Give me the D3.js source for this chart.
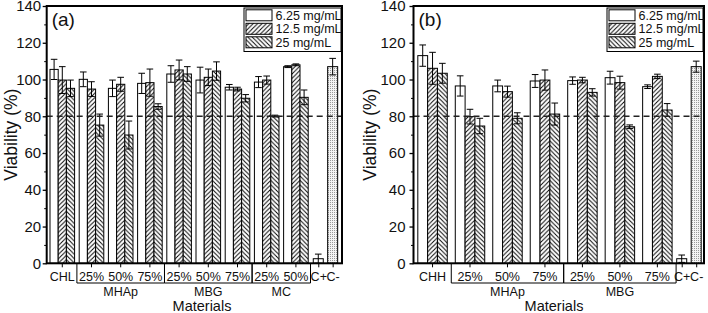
<!DOCTYPE html>
<html>
<head>
<meta charset="utf-8">
<script src="https://cdn.jsdelivr.net/npm/d3@7"></script>
<style>
  body { margin: 0; background: #fff; }
  svg { display: block; font-family: "Liberation Sans", Arial, sans-serif; }
</style>
</head>
<body>
<svg id="chart" width="708" height="313"></svg>
<script>
// series (legend) and the two control bars
var seriesNames = ["6.25 mg/mL", "12.5 mg/mL", "25 mg/mL"];
var controlCats = ["C+", "C-"];

// panel (a)
var catsA = ["CHL", "MHAp 25%", "MHAp 50%", "MHAp 75%", "MBG 25%", "MBG 50%", "MBG 75%", "MC 25%", "MC 50%"];
var lowA = [105.5, 100.1, 95.2, 97.9, 103, 99.7, 95.8, 98.6, 107];
var lowErrA = [5.5, 4, 4.5, 5.5, 4.5, 7, 1.5, 3, 0.5];
var midA = [99.7, 94.8, 97.4, 98.3, 105.2, 101.2, 94.8, 99.7, 108];
var midErrA = [7.3, 4, 3.8, 7.4, 5.4, 4.5, 1, 2.2, 0.5];
var highA = [95.2, 75.2, 69.8, 85.3, 103, 104.6, 89.8, 80.1, 90.3];
var highErrA = [4.5, 6, 7.6, 1.5, 4, 5, 2, 0.5, 4];
var ctrlA = [2.5, 107];
var ctrlErrA = [2.5, 4.5];

// panel (b)
var catsB = ["CHH", "MHAp 25%", "MHAp 50%", "MHAp 75%", "MBG 25%", "MBG 50%", "MBG 75%"];
var lowB = [113, 96.5, 96.5, 99.2, 99.4, 101, 96.1];
var lowErrB = [5.8, 5.5, 3.2, 3.5, 2, 3.5, 1];
var midB = [106.1, 79.8, 93.4, 99.7, 99.7, 98.3, 101.7];
var midErrB = [8.7, 4, 3, 5.5, 1.5, 3.5, 1.2];
var highB = [103.4, 74.7, 78.9, 81.2, 93, 74.3, 83.4];
var highErrB = [5.4, 4.2, 3, 6, 2, 1, 3.5];
var ctrlB = [2.5, 107];
var ctrlErrB = [2, 3];

var yDomain = [0, 140];
var thresholdValue = 80;

var svg = d3.select("#chart");
var defs = svg.append("defs");
var plotTop = 6, plotBottom = 263.3;

// light stipple for C-
var dots = defs.append("pattern").attr("id", "dots")
    .attr("patternUnits", "userSpaceOnUse").attr("width", 2).attr("height", 2);
dots.append("rect").attr("width", 2).attr("height", 2).attr("fill", "#f4f4f4");
dots.append("rect").attr("width", 1).attr("height", 1).attr("fill", "#9a9a9a");

function hatch(id, dir, ox) {
    var s = 4.4;
    var pat = defs.append("pattern").attr("id", id)
        .attr("patternUnits", "userSpaceOnUse")
        .attr("width", s).attr("height", s)
        .attr("x", ox).attr("y", 0);
    pat.append("rect").attr("width", s).attr("height", s).attr("fill", "#fff");
    var d = dir > 0
        ? "M0," + s + "L" + s + ",0 M-1,1L1,-1 M" + (s - 1) + "," + (s + 1) + "L" + (s + 1) + "," + (s - 1)
        : "M0,0L" + s + "," + s + " M-1," + (s - 1) + "L1," + (s + 1) + " M" + (s - 1) + ",-1L" + (s + 1) + ",1";
    pat.append("path").attr("d", d).attr("stroke", "#000").attr("stroke-width", 0.95);
    return "url(#" + id + ")";
}

function draw_panel(p) {
    var g = svg.append("g");

    var y = d3.scaleLinear().domain(yDomain).range([plotBottom, plotTop]);

    var x0 = d3.scaleBand().domain(p.cats)
        .range([p.left, p.split])
        .paddingInner(p.padIn).paddingOuter(p.padOut);
    var x1 = d3.scaleBand().domain([0, 1, 2]).range([0, x0.bandwidth()]);
    var xc = d3.scalePoint().domain(controlCats)
        .range([p.split, p.right]).padding(p.ctrlPad).align(p.ctrlAlign);

    var rows = p.cats.map(function (c, i) {
        return { cat: c, i: i, vals: [p.low[i], p.mid[i], p.high[i]], errs: [p.lowErr[i], p.midErr[i], p.highErr[i]] };
    });

    // bars
    rows.forEach(function (r) {
        var bx = x0(r.cat);
        var join = bx + x1(2); // boundary between hatched bars -> chevrons
        var fills = ["#fff",
            hatch(p.id + "m" + r.i, 1, join),
            hatch(p.id + "h" + r.i, -1, join)];
        r.vals.forEach(function (v, k) {
            g.append("rect")
                .attr("x", bx + x1(k))
                .attr("width", x1.bandwidth())
                .attr("y", y(v))
                .attr("height", y(0) - y(v))
                .attr("fill", fills[k])
                .attr("stroke", "#000").attr("stroke-width", 1);
        });
    });

    // control bars
    var cw = 10;
    controlCats.forEach(function (c, k) {
        g.append("rect")
            .attr("x", xc(c) - cw / 2).attr("width", cw)
            .attr("y", y(p.ctrl[k])).attr("height", y(0) - y(p.ctrl[k]))
            .attr("fill", k === 0 ? "#fff" : "url(#dots)")
            .attr("stroke", "#000").attr("stroke-width", 1);
    });

    // error bars
    function errBar(cx, v, e) {
        var cap = 3.3;
        g.append("path")
            .attr("d", "M" + cx + "," + y(v - e) + "V" + y(v + e) +
                "M" + (cx - cap) + "," + y(v + e) + "H" + (cx + cap) +
                "M" + (cx - cap) + "," + y(v - e) + "H" + (cx + cap))
            .attr("fill", "none").attr("stroke", "#000").attr("stroke-width", 1);
    }
    rows.forEach(function (r) {
        r.vals.forEach(function (v, k) {
            errBar(x0(r.cat) + x1(k) + x1.bandwidth() / 2, v, r.errs[k]);
        });
    });
    controlCats.forEach(function (c, k) { errBar(xc(c), p.ctrl[k], p.ctrlErr[k]); });

    // 80 % line
    g.append("line")
        .attr("x1", p.left).attr("x2", p.right)
        .attr("y1", y(thresholdValue)).attr("y2", y(thresholdValue))
        .attr("stroke", "#222").attr("stroke-width", 1.3)
        .attr("stroke-dasharray", "6,4");

    // y axis: minor then major ticks
    g.append("g").attr("transform", "translate(" + p.left + ",0)")
        .call(d3.axisLeft(y).tickValues(d3.range(10, 140, 20)).tickSize(2.5).tickFormat(""))
        .call(function (a) { a.select(".domain").remove(); });
    var ya = g.append("g").attr("transform", "translate(" + p.left + ",0)")
        .call(d3.axisLeft(y).tickValues(d3.range(0, 141, 20)).tickSize(4).tickPadding(p.yPad));
    ya.select(".domain").remove();
    ya.selectAll("text").attr("font-size", 15).attr("fill", "#111");
    ya.selectAll("line").attr("stroke-width", 1.3);

    // x axes (groups and controls)
    var xa = g.append("g").attr("transform", "translate(0," + plotBottom + ")")
        .call(d3.axisBottom(x0).tickSize(4).tickPadding(5)
            .tickFormat(function (d) { var s = d.split(" "); return s[s.length - 1]; }));
    var xb = g.append("g").attr("transform", "translate(0," + plotBottom + ")")
        .call(d3.axisBottom(xc).tickSize(4).tickPadding(5));
    [xa, xb].forEach(function (a) {
        a.select(".domain").remove();
        a.selectAll("text").attr("font-size", 12.5).attr("fill", "#111");
        a.selectAll("line").attr("stroke-width", 1);
    });

    // frame
    g.append("rect")
        .attr("x", p.left).attr("y", plotTop)
        .attr("width", p.right - p.left).attr("height", plotBottom - plotTop)
        .attr("fill", "none").attr("stroke", "#000").attr("stroke-width", 2);

    // brackets for material families
    var families = d3.groups(p.cats.filter(function (c) { return c.indexOf(" ") > 0; }),
        function (c) { return c.split(" ")[0]; });
    var half = x0.step() * x0.paddingInner() / 2;
    families.forEach(function (f) {
        var xs = x0(f[1][0]) - half;
        var xe = x0(f[1][f[1].length - 1]) + x0.bandwidth() + half;
        g.append("path")
            .attr("d", "M" + xs + "," + plotBottom + "V283H" + xe + "V" + plotBottom)
            .attr("fill", "none").attr("stroke", "#000").attr("stroke-width", 1);
        g.append("text")
            .attr("x", (xs + xe) / 2).attr("y", 295.5)
            .attr("text-anchor", "middle").attr("font-size", 12.5).attr("fill", "#111")
            .text(f[0]);
    });

    // titles
    g.append("text")
        .attr("transform", "translate(" + p.titleX + "," + ((plotTop + plotBottom) / 2) + ") rotate(-90)")
        .attr("text-anchor", "middle").attr("dy", "0.35em")
        .attr("font-size", 17.5).attr("fill", "#111")
        .text("Viability (%)");
    g.append("text")
        .attr("x", p.matX).attr("y", 311)
        .attr("text-anchor", "middle").attr("font-size", 14.5).attr("fill", "#111")
        .text("Materials");
    g.append("text")
        .attr("x", p.left + 5).attr("y", 26)
        .attr("font-size", 19).attr("fill", "#111")
        .text(p.tag);

    // legend
    var lg = g.append("g");
    lg.append("rect")
        .attr("x", p.legX - 2).attr("y", 8)
        .attr("width", p.right - p.legX + 1).attr("height", 43.5)
        .attr("fill", "#fff").attr("stroke", "#000").attr("stroke-width", 1);
    var legFills = ["#fff", hatch(p.id + "lm", 1, p.legX), hatch(p.id + "lh", -1, p.legX)];
    seriesNames.forEach(function (name, k) {
        var ry = 9.8 + k * 13.5;
        lg.append("rect")
            .attr("x", p.legX).attr("y", ry).attr("width", 26).attr("height", 11)
            .attr("fill", legFills[k]).attr("stroke", "#000").attr("stroke-width", 1);
        lg.append("text")
            .attr("x", p.legX + 29.5).attr("y", ry + 10)
            .attr("font-size", 12.5).attr("fill", "#111")
            .text(name);
    });
}

draw_panel({
    id: "a", tag: "(a)", cats: catsA,
    low: lowA, lowErr: lowErrA, mid: midA, midErr: midErrA, high: highA, highErr: highErrA,
    ctrl: ctrlA, ctrlErr: ctrlErrA,
    left: 46.7, split: 311.5, right: 342,
    padIn: 0.158, padOut: 0.113, ctrlPad: 0.56, ctrlAlign: 0.42,
    yPad: 1.5, titleX: 11, matX: 202, legX: 246
});

draw_panel({
    id: "b", tag: "(b)", cats: catsB,
    low: lowB, lowErr: lowErrB, mid: midB, midErr: midErrB, high: highB, highErr: highErrB,
    ctrl: ctrlB, ctrlErr: ctrlErrB,
    left: 413.5, split: 676.4, right: 704,
    padIn: 0.214, padOut: 0.115, ctrlPad: 0.452, ctrlAlign: 0.405,
    yPad: 4, titleX: 370, matX: 554, legX: 609
});
</script>
</body>
</html>
